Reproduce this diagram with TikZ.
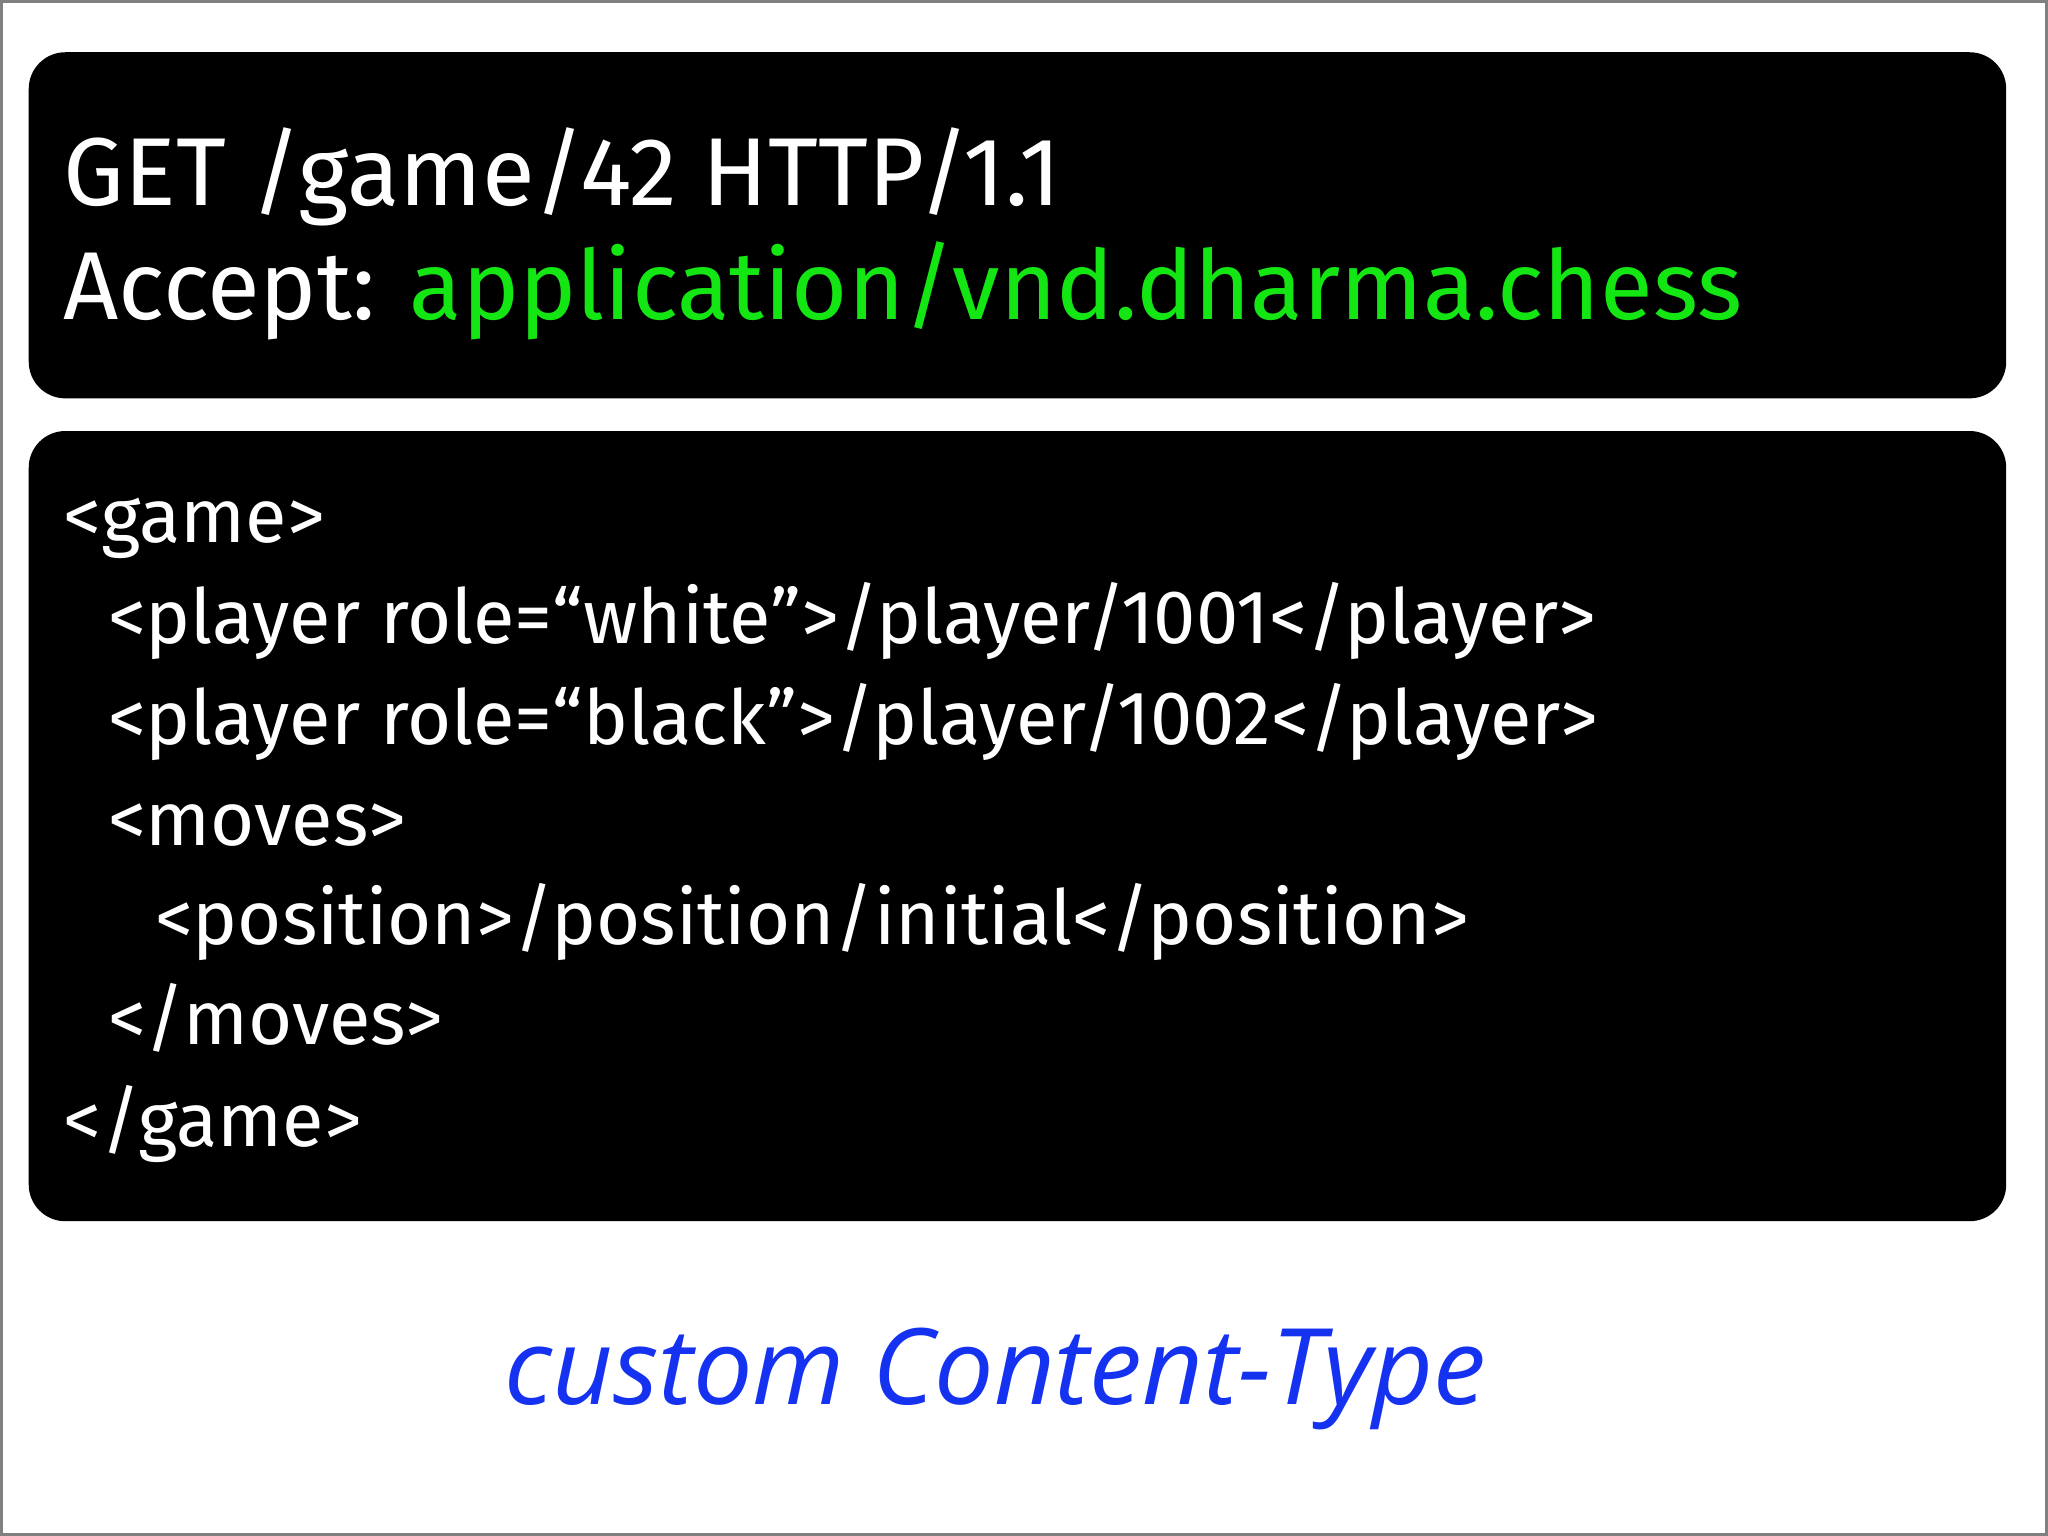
\documentclass[tikz,border=0pt]{standalone}
\usepackage{fontspec}
\setmainfont{Fira Sans}
\newfontfamily\capfont{Open Sans}
\definecolor{grn}{RGB}{20,230,20}
\definecolor{blu}{RGB}{20,50,240}
\begin{document}
\begin{tikzpicture}[x=0.01cm,y=-0.01cm,
  box/.style={fill=black,rounded corners=0.28cm},
  big/.style={anchor=base west,text=white,inner sep=0,font=\fontsize{21}{24}\selectfont},
  code/.style={anchor=base west,text=white,inner sep=0,font=\fontsize{16.5}{19}\selectfont}]
\useasboundingbox (0,0) rectangle (1568,1176);
\draw[gray,line width=0.8pt] (1,1) rectangle (1567,1175);
\fill[box] (22,40) rectangle (1536,305);
\fill[box] (22,330) rectangle (1536,935);
\node[big] (l1) at (48,157) {GET /game/42 HTTP/1.1};
\node[big] (l2) at (48,245) {Accept: \textcolor{grn}{application/vnd.dharma.chess}};
\node[code] (c1) at (48,415) {<game>};
\node[code] (c2) at (82,493) {<player role=“white”>/player/1001</player>};
\node[code] (c3) at (82,570) {<player role=“black”>/player/1002</player>};
\node[code] (c4) at (82,647) {<moves>};
\node[code] (c5) at (118,723) {<position>/position/initial</position>};
\node[code] (c6) at (82,800) {</moves>};
\node[code] (c7) at (48,878) {</game>};
\node[anchor=base,text=blu,inner sep=0,font=\capfont\itshape\fontsize{23}{26}\selectfont] (cap) at (762,1075) {custom Content-Type};
\end{tikzpicture}
\end{document}
